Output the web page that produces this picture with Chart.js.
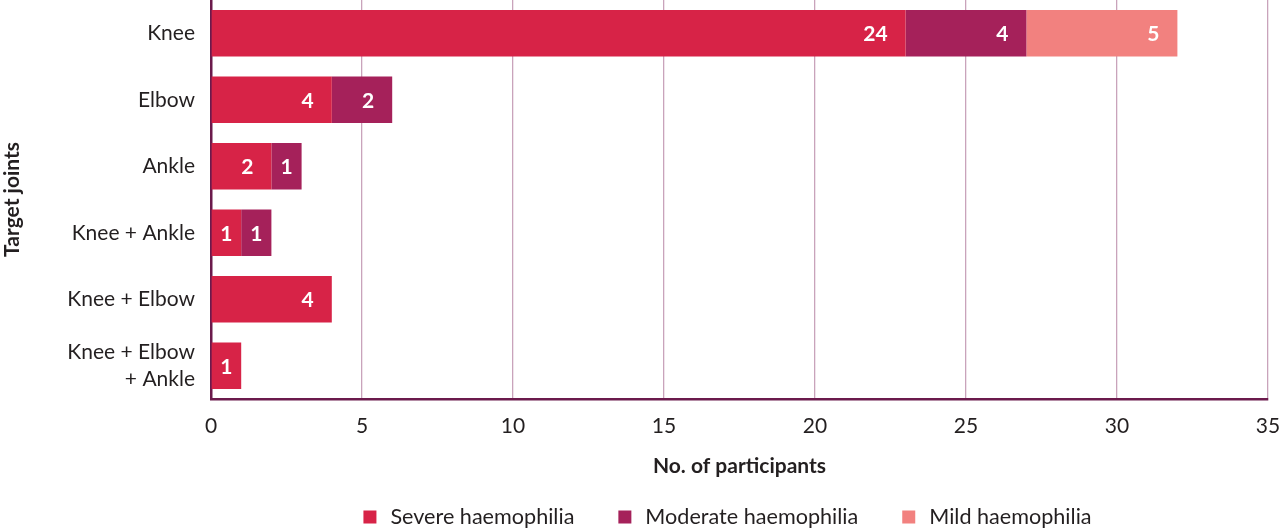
<!DOCTYPE html>
<html>
<head>
<meta charset="utf-8">
<script src="https://cdn.jsdelivr.net/npm/chart.js@4"></script>
<style>
  html, body { margin: 0; padding: 0; background: #ffffff; }
  #wrap { width: 1280px; height: 529px; position: relative; }
</style>
</head>
<body>
<div id="wrap"><canvas id="c"></canvas></div>
<script>
// ---- data ----
const categories = ['Knee', 'Elbow', 'Ankle', 'Knee + Ankle', 'Knee + Elbow', ['Knee + Elbow', '+ Ankle']];
const seriesNames = ['Severe haemophilia', 'Moderate haemophilia', 'Mild haemophilia'];
// bar lengths as drawn in the picture
const severe   = [23, 4, 2, 1, 4, 1];
const moderate = [4, 2, 1, 1, 0, 0];
const mild     = [5, 0, 0, 0, 0, 0];
// value labels printed on the bars (the source prints 24 on the Knee severe bar)
const severeLabels   = ['24', '4', '2', '1', '4', '1'];
const moderateLabels = ['4', '2', '1', '1', '', ''];
const mildLabels     = ['5', '', '', '', '', ''];
const xTicks = [0, 5, 10, 15, 20, 25, 30, 35];
const xTitle = 'No. of participants';
const yTitle = 'Target joints';

const colors = ['#d72347', '#a5215a', '#f2817f'];
const FONT = 'Lato, "Open Sans", sans-serif';
const FS = 21;
const shownLabels = [severeLabels, moderateLabels, mildLabels];

const barLabelPlugin = {
  id: 'barLabels',
  afterDatasetsDraw(chart) {
    const ctx = chart.ctx;
    ctx.save();
    ctx.font = 'bold ' + FS + 'px ' + FONT;
    ctx.fillStyle = '#ffffff';
    ctx.textBaseline = 'middle';
    ctx.textAlign = 'right';
    chart.data.datasets.forEach((ds, i) => {
      const meta = chart.getDatasetMeta(i);
      meta.data.forEach((bar, j) => {
        const txt = shownLabels[i][j];
        if (!txt || !ds.data[j]) return;
        const w = ctx.measureText(txt).width;
        const barW = bar.x - bar.base;
        const pad = Math.min(18, (barW - w) / 2);
        ctx.fillText(txt, bar.x - pad, bar.y + 1);
      });
    });
    ctx.restore();
  }
};

const legendPlugin = {
  id: 'bottomLegend',
  afterDraw(chart) {
    const ctx = chart.ctx;
    const area = chart.chartArea;
    ctx.save();
    ctx.font = '21.6px ' + FONT;
    ctx.textBaseline = 'middle';
    ctx.textAlign = 'left';
    const box = 13, gapText = 14, gapItem = 44;
    const items = chart.data.datasets.map(d => ({ label: d.label, color: d.backgroundColor, w: ctx.measureText(d.label).width }));
    let total = 0;
    items.forEach((it, k) => { total += box + gapText + it.w + (k < items.length - 1 ? gapItem : 0); });
    let x = (area.left + area.right) / 2 - 12 - total / 2;
    const y = 517;
    items.forEach(it => {
      ctx.fillStyle = it.color;
      ctx.fillRect(x, y - box / 2, box, box);
      ctx.fillStyle = '#231f20';
      ctx.fillText(it.label, x + box + gapText, y);
      x += box + gapText + it.w + gapItem;
    });
    ctx.restore();
  }
};

new Chart(document.getElementById('c'), {
  type: 'bar',
  data: {
    labels: categories,
    datasets: [
      { label: seriesNames[0], data: severe,   backgroundColor: colors[0] },
      { label: seriesNames[1], data: moderate, backgroundColor: colors[1] },
      { label: seriesNames[2], data: mild,     backgroundColor: colors[2] }
    ]
  },
  options: {
    indexAxis: 'y',
    responsive: true,
    maintainAspectRatio: false,
    animation: false,
    layout: { padding: { top: 0, right: 12, bottom: 44, left: 0 } },
    datasets: { bar: { barPercentage: 0.7, categoryPercentage: 1.0, borderWidth: 0 } },
    plugins: {
      legend: { display: false },
      tooltip: { enabled: false }
    },
    scales: {
      x: {
        stacked: true,
        min: 0,
        max: 35,
        afterBuildTicks(scale) { scale.ticks = xTicks.map(v => ({ value: v })); },
        afterFit(scale) { scale.height = 86; scale.paddingLeft = 0; scale.paddingRight = 0; },
        grid: { color: '#c9a3bb', lineWidth: 1.3, drawTicks: false },
        border: { display: true, color: '#6b1a4c', width: 2.5 },
        ticks: { padding: 15, color: '#231f20', font: { family: FONT, size: FS } },
        title: { display: true, text: xTitle, color: '#231f20', padding: { top: 6, bottom: 6 }, font: { family: FONT, size: FS, weight: 'bold' } }
      },
      y: {
        stacked: true,
        afterFit(scale) { scale.width = 211; scale.paddingTop = 0; scale.paddingBottom = 0; },
        grid: { display: false, drawTicks: false },
        border: { display: true, color: '#6b1a4c', width: 2.5 },
        ticks: { padding: 16, color: '#231f20', font: { family: FONT, size: FS, lineHeight: 1.25 } },
        title: { display: true, text: yTitle, color: '#231f20', padding: { top: 0, bottom: 0 }, font: { family: FONT, size: FS, weight: 'bold' } }
      }
    }
  },
  plugins: [barLabelPlugin, legendPlugin]
});
</script>
</body>
</html>
